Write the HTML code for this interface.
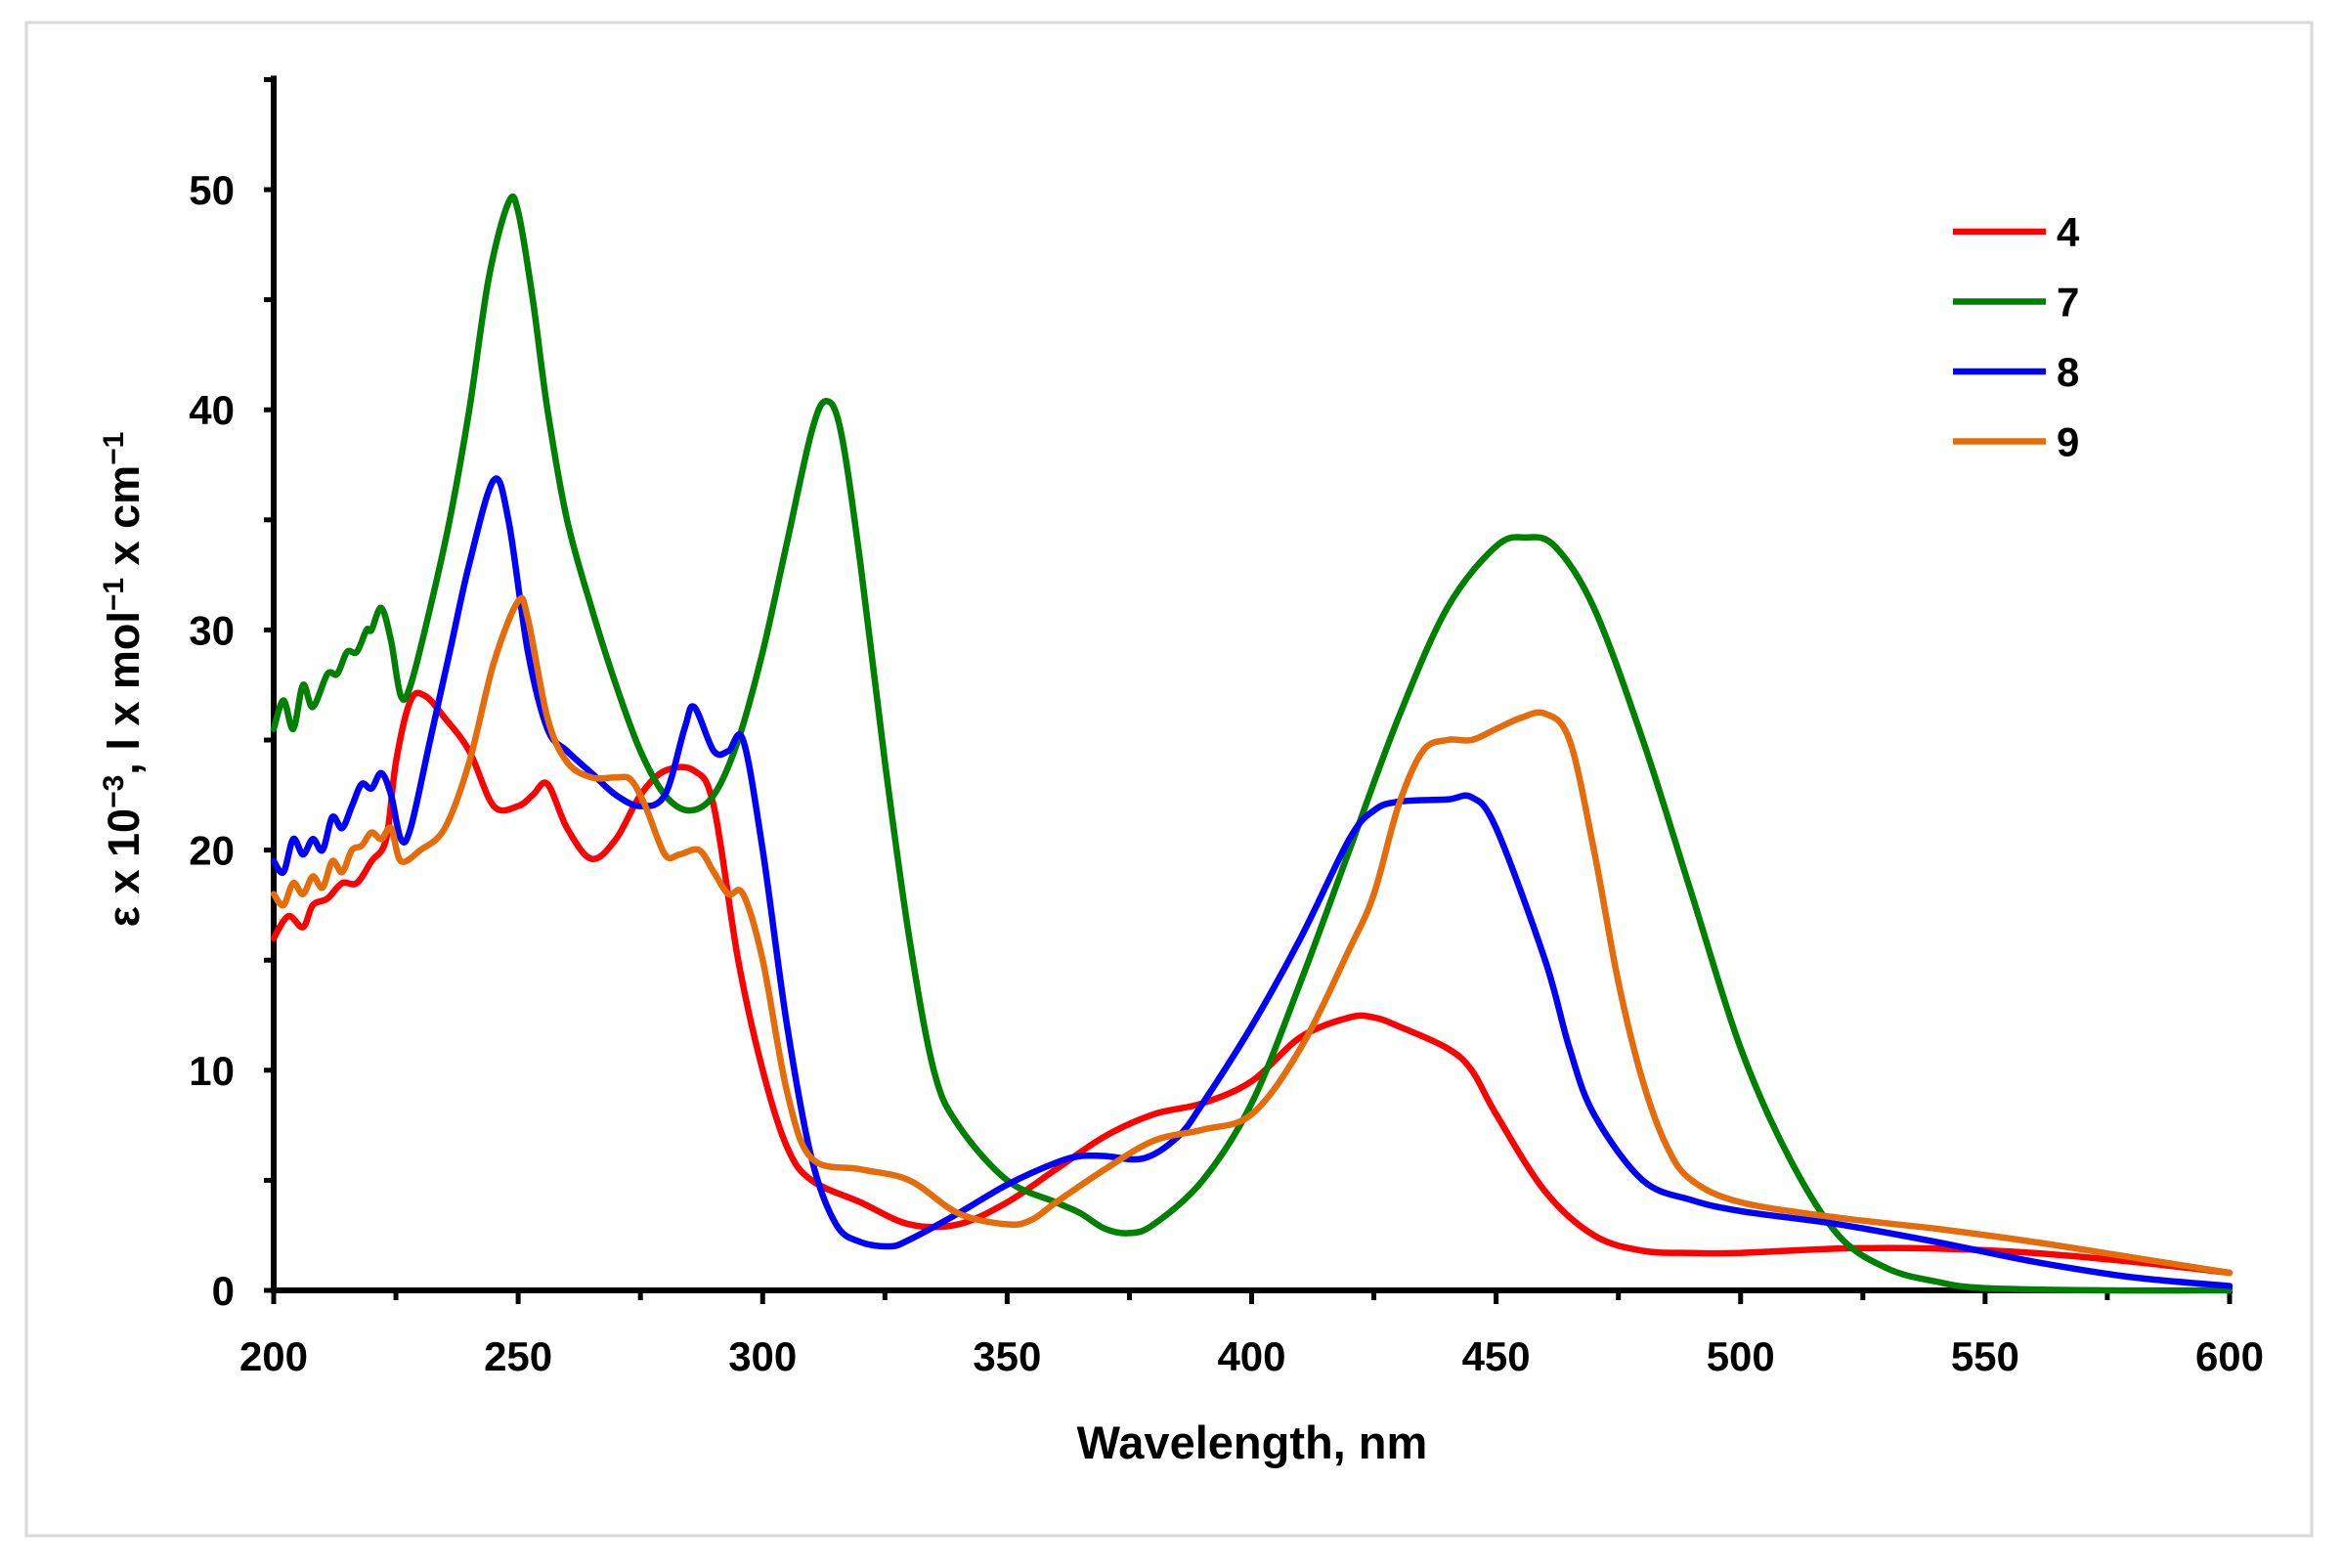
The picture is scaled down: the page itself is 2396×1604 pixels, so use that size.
<!DOCTYPE html>
<html><head><meta charset="utf-8">
<style>
html,body{margin:0;padding:0;background:#fff;}
svg{display:block;font-family:"Liberation Sans",sans-serif;}
</style></head>
<body>
<svg id="chart" width="2396" height="1604" viewBox="0 0 2396 1604">
<rect x="27" y="23" width="2338" height="1548" fill="#fff" stroke="#d9d9d9" stroke-width="3"/>
<g id="axes"></g>
<g id="series"></g>
<g id="legend"></g>
<text x="1281" y="1492" text-anchor="middle" font-size="47" font-weight="bold">Wavelength, nm</text>
<text transform="translate(142,695) rotate(-90)" text-anchor="middle" font-size="45" font-weight="bold">ε x 10<tspan dy="-16" font-size="30">−3</tspan><tspan dy="16">, l x mol</tspan><tspan dy="-16" font-size="30">−1</tspan><tspan dy="16"> x cm</tspan><tspan dy="-16" font-size="30">−1</tspan></text>
</svg>
<script>
const xTicks = [200,250,300,350,400,450,500,550,600];
const yTicks = [0,10,20,30,40,50];
const seriesNames = ["4","7","8","9"];
const seriesColors = ["#ff0000","#008000","#0000ff","#e46c0a"];
const red4 = [[200,16],[203,17],[206,16.5],[208,17.5],[211,17.8],[214,18.5],[217,18.5],[220,19.5],[223,20.5],[225,24],[228,26.8],[231,27],[235,26],[240,24.5],[245,22],[250,22],[253,22.5],[256,23],[260,21],[265,19.6],[270,20.5],[275,22.5],[280,23.6],[286,23.6],[290,22],[295,15],[300,10],[305,6.5],[310,5],[320,4],[330,3],[340,3],[350,4],[360,5.5],[370,7],[380,8],[390,8.5],[400,9.5],[410,11.5],[420,12.4],[425,12.4],[430,12],[440,11],[445,10],[450,8],[460,4.5],[470,2.5],[480,1.8],[490,1.7],[500,1.7],[520,1.9],[540,1.9],[560,1.7],[580,1.3],[600,0.8]];
const green7 = [[200,25.5],[202,26.8],[204,25.5],[206,27.5],[208,26.5],[211,28],[213,28],[215,29],[217,29],[219,30],[220,30],[222,31],[224,29.5],[226,27],[228,27.5],[232,31],[236,35],[240,40],[244,46],[248,49.4],[250,49],[253,45],[256,40],[260,35],[265,31],[270,27.5],[275,24.5],[280,22.5],[285,21.8],[290,22.5],[295,25],[300,29],[305,34],[310,39],[313,40.4],[316,39],[320,33],[325,24],[330,16],[335,10],[340,7.5],[350,5],[360,4],[365,3.5],[370,2.8],[375,2.6],[380,3],[390,5],[400,8.5],[410,14],[420,20],[430,26],[440,31],[450,33.8],[456,34.2],[462,33.8],[470,31],[480,25],[490,18],[500,11],[510,6],[520,2.5],[530,1],[540,0.4],[550,0.1],[575,0],[600,0]];
const blue8 = [[200,19.5],[202,19],[204,20.5],[206,19.8],[208,20.5],[210,20],[212,21.5],[214,21],[216,22],[218,23],[220,22.8],[222,23.5],[224,22.5],[226,20.5],[228,21],[232,25],[236,29],[240,33],[245,36.8],[248,35],[252,29],[256,25.5],[260,24.5],[265,23.5],[270,22.5],[275,22],[280,22.5],[284,25.5],[286,26.5],[290,24.5],[293,24.5],[296,25],[300,20],[305,12],[310,6],[315,3],[320,2.2],[326,2],[330,2.3],[340,3.5],[350,4.8],[360,5.8],[365,6.1],[370,6.1],[378,6],[385,7],[390,8.5],[400,12],[410,16],[420,20.5],[425,21.8],[430,22.2],[440,22.3],[445,22.4],[450,21],[460,15],[465,11],[470,8],[480,5],[490,4.1],[500,3.6],[520,3],[540,2.2],[560,1.3],[580,0.6],[600,0.2]];
const orange9 = [[200,18],[202,17.5],[204,18.5],[206,18],[208,18.8],[210,18.3],[212,19.5],[214,19],[216,20],[218,20.2],[220,20.8],[222,20.5],[224,21],[226,19.5],[230,20],[235,21],[240,24],[245,28.5],[250,31.3],[252,30.5],[256,26],[260,24],[265,23.3],[270,23.3],[273,23.2],[276,22],[280,19.8],[283,19.8],[287,20],[290,19],[293,18],[296,18],[300,15],[305,9],[310,6],[320,5.5],[330,5],[340,3.5],[350,3],[355,3.2],[360,4],[370,5.5],[380,6.8],[390,7.3],[400,8],[410,11],[420,15.5],[425,18],[430,22],[435,24.5],[440,25],[445,25],[450,25.5],[455,26],[460,26.2],[465,25],[470,20],[475,14],[480,9.5],[485,6.5],[490,5],[500,4],[520,3.3],[540,2.8],[560,2.2],[580,1.5],[600,0.8]];
const allSeries = [red4, green7, blue8, orange9];

const X0=280, X1=2281, Y0=1320, Y50=194;
function xs(v){return X0+(v-200)*(X1-X0)/400;}
function ys(v){return Y0-(v)*(Y0-Y50)/50;}
const NS="http://www.w3.org/2000/svg";
function mk(tag,attrs,parent){const e=document.createElementNS(NS,tag);for(const k in attrs)e.setAttribute(k,attrs[k]);parent.appendChild(e);return e;}

const axes=document.getElementById('axes');
let l=mk('line',{x1:X0,y1:ys(55)-4,x2:X0,y2:Y0+3,stroke:'#000','stroke-width':6},axes);


l=mk('line',{x1:X0-3,y1:Y0,x2:X1+3,y2:Y0,stroke:'#000','stroke-width':6},axes);


for(let v=0;v<=55;v+=5){
  const t=mk('line',{x1:X0-10,y1:ys(v),x2:X0,y2:ys(v),stroke:'#000','stroke-width':5},axes);
  
  
}
for(let v=200;v<=600;v+=25){
  const t=mk('line',{x1:xs(v),y1:Y0,x2:xs(v),y2:Y0+(v%50===0?14:10),stroke:'#000','stroke-width':5},axes);
  
  
}
yTicks.forEach(v=>{
  const t=mk('text',{x:X0-40,y:ys(v)+15,'text-anchor':'end','font-size':42,'font-weight':'bold'},axes);
  t.textContent=v;
  
  
});
xTicks.forEach(v=>{
  const t=mk('text',{x:xs(v),y:Y0+82,'text-anchor':'middle','font-size':42,'font-weight':'bold'},axes);
  t.textContent=v;
  
  
});

function pathFor(data){
  const p=data.map(d=>[xs(d[0]),ys(d[1])]);
  let s='M'+p[0][0].toFixed(1)+','+p[0][1].toFixed(1);
  for(let i=0;i<p.length-1;i++){
    const a=p[Math.max(0,i-1)],b=p[i],c=p[i+1],d=p[Math.min(p.length-1,i+2)];
    const c1=[b[0]+(c[0]-a[0])/6,b[1]+(c[1]-a[1])/6];
    const c2=[c[0]-(d[0]-b[0])/6,c[1]-(d[1]-b[1])/6];
    s+=' C'+c1[0].toFixed(1)+','+c1[1].toFixed(1)+' '+c2[0].toFixed(1)+','+c2[1].toFixed(1)+' '+c[0].toFixed(1)+','+c[1].toFixed(1);
  }
  return s;
}
const sg=document.getElementById('series');
const lg=document.getElementById('legend');
allSeries.forEach((data,i)=>{
  const p=mk('path',{d:pathFor(data),fill:'none',stroke:seriesColors[i],'stroke-width':6.5,'stroke-linejoin':'round','stroke-linecap':'round'},sg);
  
  
  const ly=237+i*71.5;
  const ll=mk('line',{x1:1998,y1:ly,x2:2093,y2:ly,stroke:seriesColors[i],'stroke-width':6.5},lg);
  
  
  const lt=mk('text',{x:2104,y:ly+15,'font-size':42,'font-weight':'bold'},lg);
  lt.textContent=seriesNames[i];
  
  
});
</script>
</body></html>
